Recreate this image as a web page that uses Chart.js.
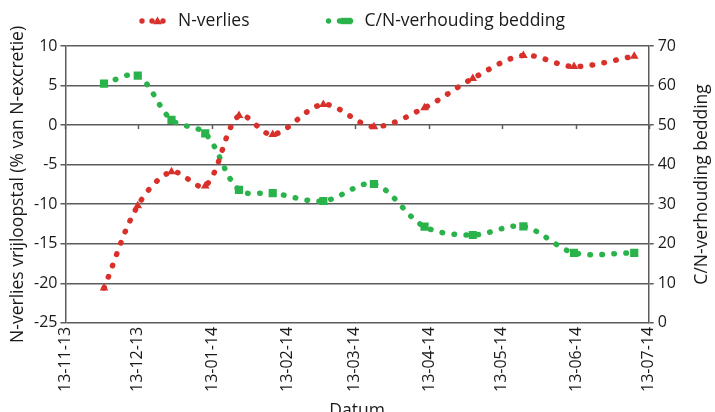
<!DOCTYPE html>
<html>
<head>
<meta charset="utf-8">
<script src="https://cdn.jsdelivr.net/npm/chart.js@4.4.1/dist/chart.umd.min.js"></script>
<style>
html,body{margin:0;padding:0;background:#ffffff;}
#wrap{width:715px;height:412px;overflow:hidden;}
</style>
</head>
<body>
<div id="wrap"><canvas id="c" width="715" height="412"></canvas></div>
<script>
// ---- data ----
const sampleDates = ['2013-11-29','2013-12-13','2013-12-27','2014-01-10','2014-01-24','2014-02-07',
                     '2014-02-28','2014-03-21','2014-04-11','2014-05-01','2014-05-22','2014-06-12','2014-07-07'];
const nVerlies = [-20.6, -10.2, -5.9, -7.7, 1.2, -1.2, 2.6, -0.2, 2.2, 5.9, 8.8, 7.4, 8.7];
const cnVerhouding = [60.5, 62.5, 51.3, 47.9, 33.6, 32.8, 30.8, 35.1, 24.3, 22.2, 24.4, 17.7, 17.7];
const axisStartDate = '2013-11-13';
const monthTickDates = ['2013-11-13','2013-12-13','2014-01-13','2014-02-13','2014-03-13',
                        '2014-04-13','2014-05-13','2014-06-13','2014-07-13'];
const monthTickLabels = ['13-11-13','13-12-13','13-01-14','13-02-14','13-03-14',
                         '13-04-14','13-05-14','13-06-14','13-07-14'];
const seriesNames = ['N-verlies', 'C/N-verhouding bedding'];
const leftTitle = 'N-verlies vrijloopstal (% van N-excretie)';
const rightTitle = 'C/N-verhouding bedding';
const xTitle = 'Datum';

// ---- helpers ----
function dayIndex(s){
  const p = s.split('-').map(Number);
  const q = axisStartDate.split('-').map(Number);
  return Math.round((Date.UTC(p[0],p[1]-1,p[2]) - Date.UTC(q[0],q[1]-1,q[2])) / 86400000);
}
const xs = sampleDates.map(dayIndex);
const tickDays = monthTickDates.map(dayIndex);

const RED = '#d8302b';
const GREEN = '#2bb34b';
const FONT = "'Open Sans', 'Noto Sans', sans-serif";
const TXT = '#1a1a1a';
const GRID = '#5c5c5c';
const TITLE_SIZE = 17.5;
const TICK_SIZE = 16;

function drawDot(g, x, y, color){ g.fillStyle = color; g.beginPath(); g.arc(x, y, 2.7, 0, Math.PI*2); g.fill(); }

// legend drawn with the chart (series names come from the datasets)
const legendPlugin = {
  id: 'customLegend',
  afterDraw(chart){
    const ctx = chart.ctx;
    const ds = chart.data.datasets;
    const y = 21;
    ctx.save();
    ctx.font = TITLE_SIZE + "px " + FONT;
    ctx.textBaseline = 'middle';
    ctx.textAlign = 'left';
    const sampleW = 26, gapText = 13, gapItem = 76;
    const w0 = ctx.measureText(ds[0].label).width;
    const w1 = ctx.measureText(ds[1].label).width;
    const total = sampleW + gapText + w0 + gapItem + sampleW + gapText + w1;
    let x = 352 - total / 2;
    drawDot(ctx, x + 3, y, RED);
    drawDot(ctx, x + 13, y, RED);
    drawDot(ctx, x + 24, y, RED);
    ctx.fillStyle = RED;
    ctx.beginPath(); ctx.moveTo(x + 18.5, y - 4.6); ctx.lineTo(x + 23, y + 3.2); ctx.lineTo(x + 14, y + 3.2); ctx.closePath(); ctx.fill();
    x += sampleW + gapText;
    ctx.fillStyle = TXT;
    ctx.fillText(ds[0].label, x, y);
    x += w0 + gapItem;
    drawDot(ctx, x + 3, y, GREEN);
    drawDot(ctx, x + 14, y, GREEN);
    ctx.fillStyle = GREEN;
    ctx.fillRect(x + 15, y - 3.2, 11, 6.4);
    drawDot(ctx, x + 25, y, GREEN);
    x += sampleW + gapText;
    ctx.fillStyle = TXT;
    ctx.fillText(ds[1].label, x, y);
    ctx.restore();
  }
};

const extras = {
  id: 'extras',
  beforeDatasetsDraw(chart){
    const {ctx, scales:{x, y}} = chart;
    const y0 = y.getPixelForValue(0);
    ctx.save();
    ctx.strokeStyle = GRID; ctx.lineWidth = 1.5;
    x.ticks.forEach(t => {
      const px = Math.round(x.getPixelForValue(t.value)) + 0.5;
      ctx.beginPath(); ctx.moveTo(px, y0); ctx.lineTo(px, y0 + 4); ctx.stroke();
    });
    ctx.restore();
  },
  afterDraw(chart){
    const {ctx, chartArea, scales:{y2}} = chart;
    ctx.save();
    ctx.translate(y2.right + 22, (chartArea.top + chartArea.bottom) / 2);
    ctx.rotate(-Math.PI/2);
    ctx.font = TITLE_SIZE + "px " + FONT;
    ctx.fillStyle = TXT;
    ctx.textAlign = 'center';
    ctx.textBaseline = 'middle';
    ctx.fillText(rightTitle, 0, 0);
    ctx.restore();
  }
};

const lineCommon = {
  borderWidth: 5.5,
  borderDash: [0.5, 11.5],
  borderCapStyle: 'round',
  tension: 0.33,
  fill: false,
  pointBorderWidth: 0,
  pointHoverRadius: 5
};

new Chart(document.getElementById('c'), {
  type: 'line',
  data: {
    datasets: [
      Object.assign({}, lineCommon, {
        label: seriesNames[0],
        data: xs.map((d,i) => ({x: d, y: nVerlies[i]})),
        borderColor: RED,
        backgroundColor: RED,
        pointBackgroundColor: RED,
        pointStyle: 'triangle',
        pointRadius: 5,
        yAxisID: 'y'
      }),
      Object.assign({}, lineCommon, {
        label: seriesNames[1],
        data: xs.map((d,i) => ({x: d, y: cnVerhouding[i]})),
        borderColor: GREEN,
        backgroundColor: GREEN,
        pointBackgroundColor: GREEN,
        pointStyle: 'rect',
        pointRadius: 5.8,
        yAxisID: 'y2'
      })
    ]
  },
  options: {
    responsive: false,
    animation: false,
    devicePixelRatio: 1,
    layout: { padding: { left: 8, right: 35, top: 46, bottom: -10 } },
    plugins: {
      tooltip: { enabled: false },
      legend: { display: false }
    },
    scales: {
      x: {
        type: 'linear',
        min: tickDays[0],
        max: tickDays[tickDays.length - 1],
        afterBuildTicks(scale){ scale.ticks = tickDays.map(v => ({value: v})); },
        ticks: {
          autoSkip: false,
          minRotation: 90,
          maxRotation: 90,
          padding: 4,
          color: TXT,
          font: { family: FONT, size: TICK_SIZE },
          callback(value){ const k = tickDays.indexOf(value); return k >= 0 ? monthTickLabels[k] : ''; }
        },
        grid: { display: false, drawTicks: false },
        border: { display: false },
        title: { display: true, text: xTitle, color: TXT, font: { family: FONT, size: TITLE_SIZE }, padding: { top: 5, bottom: 0 } }
      },
      y: {
        position: 'left',
        min: -25, max: 10,
        ticks: { stepSize: 5, color: TXT, font: { family: FONT, size: TICK_SIZE }, padding: 3 },
        grid: { color: GRID, lineWidth: 1.5, tickLength: 5, drawTicks: true },
        border: { display: true, color: GRID, width: 1.5 },
        title: { display: true, text: leftTitle, color: TXT, font: { family: FONT, size: TITLE_SIZE }, padding: { top: 0, bottom: 2 } }
      },
      y2: {
        position: 'right',
        min: 0, max: 70,
        ticks: { stepSize: 10, color: TXT, font: { family: FONT, size: TICK_SIZE }, padding: 4 },
        grid: { drawOnChartArea: false, color: GRID, lineWidth: 1.5, tickLength: 5, drawTicks: true },
        border: { display: true, color: GRID, width: 1.5 }
      }
    }
  },
  plugins: [extras, legendPlugin]
});
</script>
</body>
</html>
